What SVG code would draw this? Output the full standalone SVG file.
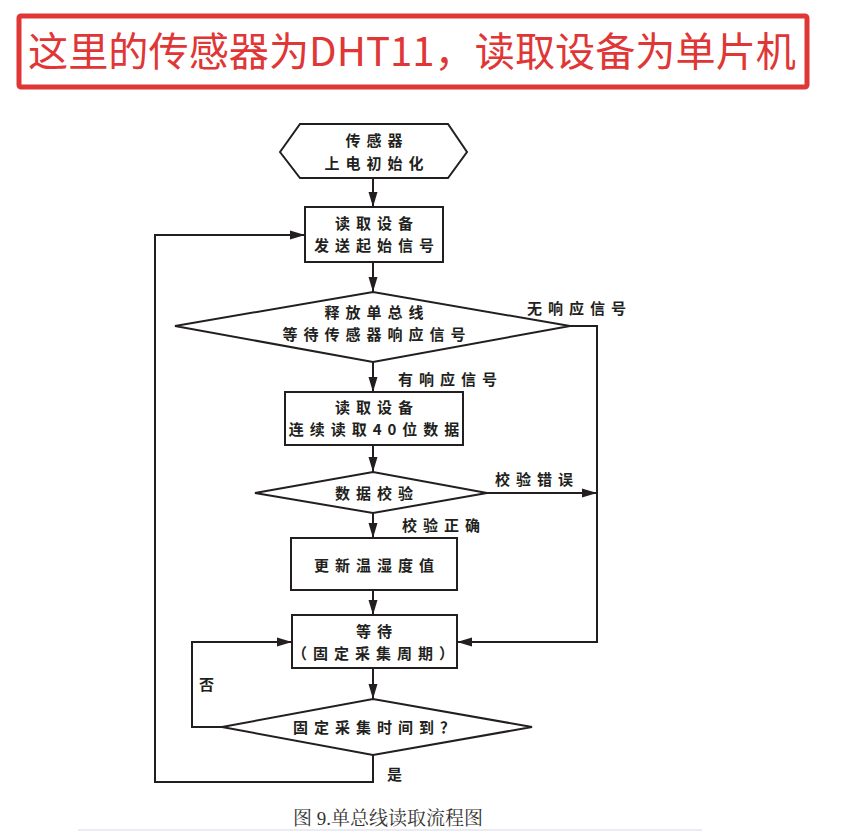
<svg xmlns="http://www.w3.org/2000/svg" width="853" height="836" viewBox="0 0 853 836">
<style>
.shape{fill:#fff;stroke:#231f20;stroke-width:2}
.line{fill:none;stroke:#231f20;stroke-width:2}
.t{font-family:"Noto Sans CJK SC","Noto Sans",sans-serif;font-size:15px;font-weight:700;fill:#231f20;letter-spacing:6px}
.c{text-anchor:middle}
</style>
<defs>
<marker id="ah" markerUnits="userSpaceOnUse" markerWidth="16" markerHeight="10" refX="15" refY="5" orient="auto">
<path d="M0,0.5 L15,5 L0,9.5 Z" fill="#231f20"/>
</marker>
</defs>
<rect width="853" height="836" fill="#fff"/>
<g id="title">
<rect x="19" y="16" width="788" height="71" rx="2" fill="#fff" stroke="#e03636" stroke-width="5"/>
<text x="412" y="66" text-anchor="middle" font-family="Noto Sans CJK SC, sans-serif" font-size="40" fill="#e03636" textLength="768" lengthAdjust="spacingAndGlyphs">这里的传感器为DHT11，读取设备为单片机</text>
</g>
<g id="connectors">
<line class="line" x1="373" y1="178" x2="373" y2="207" marker-end="url(#ah)"/>
<line class="line" x1="373" y1="262" x2="373" y2="292" marker-end="url(#ah)"/>
<line class="line" x1="373" y1="362" x2="373" y2="392" marker-end="url(#ah)"/>
<line class="line" x1="373" y1="445" x2="373" y2="472" marker-end="url(#ah)"/>
<line class="line" x1="373" y1="513" x2="373" y2="538" marker-end="url(#ah)"/>
<line class="line" x1="373" y1="590" x2="373" y2="615" marker-end="url(#ah)"/>
<line class="line" x1="373" y1="668" x2="373" y2="699" marker-end="url(#ah)"/>
<polyline class="line" points="222,727 192,727 192,642 292,642" marker-end="url(#ah)"/>
<polyline class="line" points="373,755 373,782 155,782 155,235 305,235" marker-end="url(#ah)"/>
<polyline class="line" points="570,326 597,326 597,642 457,642" marker-end="url(#ah)"/>
<line class="line" x1="487" y1="493" x2="597" y2="493" marker-end="url(#ah)"/>
<text class="t" x="527" y="314">无响应信号</text>
<text class="t" x="398" y="385">有响应信号</text>
<text class="t" x="495" y="485">校验错误</text>
<text class="t" x="402" y="531">校验正确</text>
<text class="t" x="199" y="690">否</text>
<text class="t" x="387" y="780">是</text>
</g>
<g id="n_init">
<polygon class="shape" points="280,152 300,124 448,124 467,152 448,178 300,178"/>
<text class="t c" x="377" y="146">传感器</text>
<text class="t c" x="377" y="169">上电初始化</text>
</g>
<g id="n_start">
<rect class="shape" x="305" y="207" width="138" height="55"/>
<text class="t c" x="377" y="229">读取设备</text>
<text class="t c" x="377" y="251">发送起始信号</text>
</g>
<g id="n_wait_resp">
<polygon class="shape" points="175,326 373,292 570,326 373,362"/>
<text class="t c" x="377" y="318">释放单总线</text>
<text class="t c" x="377" y="340">等待传感器响应信号</text>
</g>
<g id="n_read">
<rect class="shape" x="285" y="392" width="178" height="53"/>
<text class="t c" x="377" y="413">读取设备</text>
<text class="t c" x="377" y="435">连续读取40位数据</text>
</g>
<g id="n_check">
<polygon class="shape" points="255,493 373,472 487,493 373,513"/>
<text class="t c" x="377" y="499">数据校验</text>
</g>
<g id="n_update">
<rect class="shape" x="291" y="538" width="166" height="52"/>
<text class="t c" x="377" y="571">更新温湿度值</text>
</g>
<g id="n_wait">
<rect class="shape" x="292" y="615" width="165" height="53"/>
<text class="t c" x="377" y="637">等待</text>
<text class="t c" x="376" y="659" letter-spacing="3">（固定采集周期）</text>
</g>
<g id="n_time">
<polygon class="shape" points="222,727 373,699 532,727 373,755"/>
<text class="t c" x="377" y="733">固定采集时间到？</text>
</g>
<g id="caption">
<text x="388" y="825" text-anchor="middle" font-family="Liberation Serif, Noto Serif CJK SC, Noto Sans CJK SC, serif" font-size="19" fill="#333">图 9.单总线读取流程图</text>
<line x1="78" y1="830" x2="702" y2="830" stroke="#e4e6ef" stroke-width="1.5"/>
</g>
</svg>
